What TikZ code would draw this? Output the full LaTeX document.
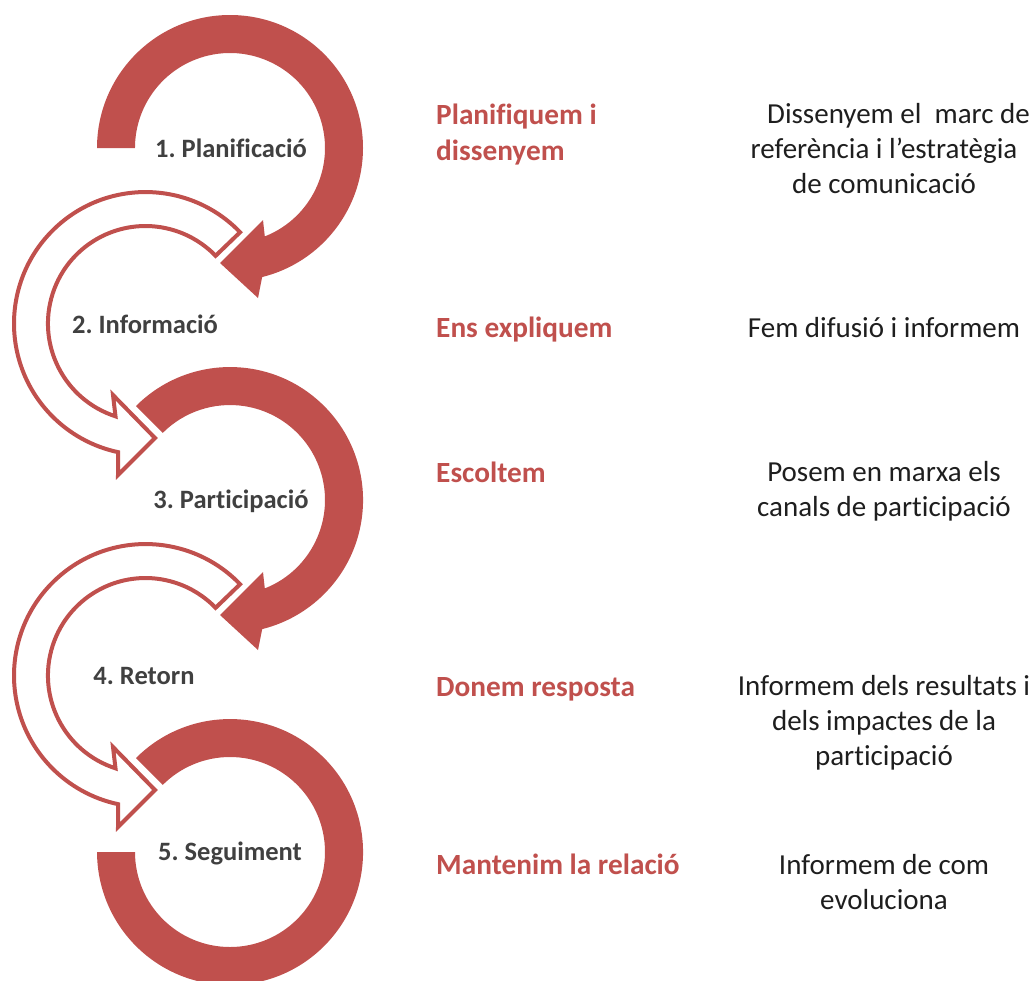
\documentclass[tikz,border=0pt]{standalone}
\usepackage{fontspec}
\setmainfont{Carlito}[Ligatures=NoCommon]
\usepackage{xcolor}
\definecolor{arcred}{HTML}{C0504D}
\definecolor{labgray}{HTML}{404040}
\definecolor{txtgray}{HTML}{1E1E1E}
\tikzset{
	fullarc/.style={fill=arcred},
	openarc/.style={draw=arcred, fill=white, line width=4pt, line join=miter},
	steplabel/.style={anchor=base, text=labgray, font=\fontsize{26.5}{30}\selectfont\bfseries, inner sep=0pt},
	actionlabel/.style={anchor=base west, text=arcred, align=left, font=\fontsize{29.3}{36}\selectfont\bfseries, inner sep=0pt},
	desclabel/.style={anchor=base, text=txtgray, align=center, font=\fontsize{29}{35}\selectfont, inner sep=0pt}
}
\frenchspacing

\begin{document}
\begin{tikzpicture}[x=1pt, y=1pt]
		\useasboundingbox (0,0) rectangle (1035,-980);
		% filled arrows
		\fill[fullarc] (97,-148) arc[start angle=180, end angle=-76, radius=133] -- (258,-298) -- (220,-263) -- (263,-220) -- (264.8,-236.4) arc[start angle=-68.5, end angle=180, radius=95] -- cycle;
		\fill[fullarc] (136,-406) arc[start angle=135, end angle=-76, radius=133] -- (258,-650) -- (220,-615) -- (263,-572) -- (264.8,-588.4) arc[start angle=-68.5, end angle=135, radius=95] -- cycle;
		\fill[fullarc] (136,-758) arc[start angle=135, end angle=-180, radius=133] -- (135,-852) arc[start angle=-180, end angle=135, radius=95] -- cycle;
		%%%%%%%
		% open arrows
		\draw[openarc] (240.1,-232.2) arc[start angle=44, end angle=258, radius=131.5] -- (118,-475) -- (155,-438) -- (113,-395) -- (115.5,-416.3) arc[start angle=252.1, end angle=44, radius=97.5] -- cycle;
		\draw[openarc] (240.1,-584.2) arc[start angle=44, end angle=258, radius=131.5] -- (118,-827) -- (155,-790) -- (113,-747) -- (115.5,-768.3) arc[start angle=252.1, end angle=44, radius=97.5] -- cycle;
		%%%%%%%
		\node(plan)[steplabel] at (231,-157) {1. Planificació};
		\node(info)[steplabel] at (145,-333) {2. Informació};
		\node(part)[steplabel] at (231,-508) {3. Participació};
		\node(ret)[steplabel] at (144,-684) {4. Retorn};
		\node(seg)[steplabel] at (230,-860) {5. Seguiment};
		%%%%%%%
		% base anchor sits on the last line
		\node(planact)[actionlabel] at (436,-160) {Planifiquem i\\dissenyem};
		\node(infoact)[actionlabel] at (436,-337) {Ens expliquem};
		\node(partact)[actionlabel] at (436,-482) {Escoltem};
		\node(retact)[actionlabel] at (436,-696) {Donem resposta};
		\node(segact)[actionlabel] at (436,-874) {Mantenim la relació};
		%%%%%%%
		\node(plandesc)[desclabel] at (884,-193) {\hspace*{1em}Dissenyem el\ \ marc de\\referència i l’estratègia\\de comunicació};
		\node(infodesc)[desclabel] at (884,-337) {Fem difusió i informem};
		\node(partdesc)[desclabel] at (884,-516) {Posem en marxa els\\canals de participació};
		\node(retdesc)[desclabel] at (884,-765) {Informem dels resultats i\\dels impactes de la\\participació};
		\node(segdesc)[desclabel] at (884,-909) {Informem de com\\evoluciona};
\end{tikzpicture}
\end{document}
